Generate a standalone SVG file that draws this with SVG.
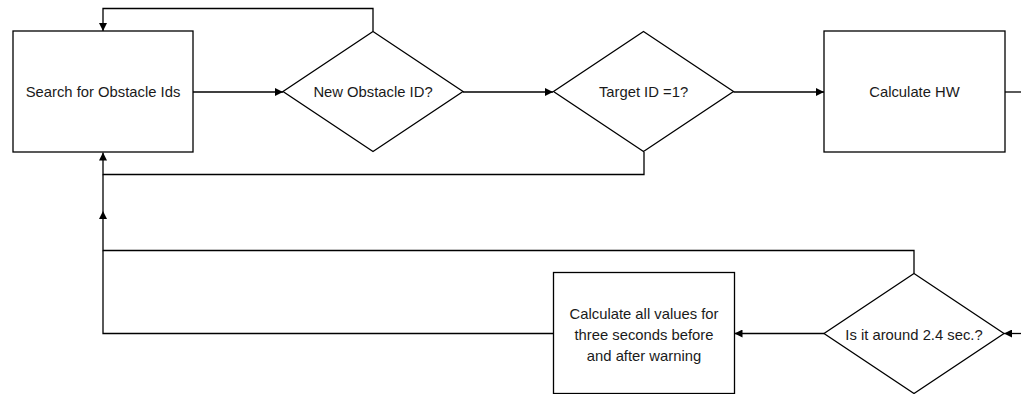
<svg xmlns="http://www.w3.org/2000/svg" width="1021" height="394" viewBox="0 0 1021 394">
<style>
.n{fill:#fff;stroke:#000;stroke-width:1.3}
.c{fill:none;stroke:#000;stroke-width:1.3}
text{font-family:"Liberation Sans",Arial,sans-serif;font-size:14.8px;fill:#1a1a1a;text-anchor:middle}
</style>
<defs>
<marker id="ah" viewBox="0 0 10 10" refX="10" refY="5" markerWidth="8" markerHeight="8" markerUnits="userSpaceOnUse" orient="auto">
<path d="M0,0 L10,5 L0,10 z" fill="#000"/>
</marker>
</defs>
<rect width="1021" height="394" fill="#fff"/>
<g id="connectors">
<path class="c" d="M373,31.5 V8.5 H103 V31" marker-end="url(#ah)"/>
<path class="c" d="M193,92 H283" marker-end="url(#ah)"/>
<path class="c" d="M463,92 H553" marker-end="url(#ah)"/>
<path class="c" d="M644,152 V174.5 H103 V152.5" marker-end="url(#ah)"/>
<path class="c" d="M733.5,92 H824" marker-end="url(#ah)"/>
<path class="c" d="M1005,92 H1021"/>
<path class="c" d="M914,273.5 V250.5 H103 V211" marker-end="url(#ah)"/>
<path class="c" d="M103,211 V174.5"/>
<path class="c" d="M553.5,333.5 H103 V250.5"/>
<path class="c" d="M824,333.5 H734.5" marker-end="url(#ah)"/>
<path class="c" d="M1021,333.5 H1004" marker-end="url(#ah)"/>
</g>
<g id="search">
<rect class="n" x="13" y="31" width="180" height="121"/>
<text x="103" y="97.3">Search for Obstacle Ids</text>
</g>
<g id="newid">
<polygon class="n" points="373,31.5 463,91.5 373,151.5 283,91.5"/>
<text x="373" y="97.3">New Obstacle ID?</text>
</g>
<g id="target">
<polygon class="n" points="643.5,31.5 733.5,91.5 643.5,151.5 553.5,91.5"/>
<text x="643.5" y="97.3">Target ID =1?</text>
</g>
<g id="hw">
<rect class="n" x="824" y="31" width="181" height="121"/>
<text x="914.5" y="97.3">Calculate HW</text>
</g>
<g id="around">
<polygon class="n" points="914,273.5 1004,333.5 914,393.5 824,333.5"/>
<text x="914" y="339.5">Is it around 2.4 sec.?</text>
</g>
<g id="calcall">
<rect class="n" x="553.5" y="272.5" width="181" height="121"/>
<text x="644" y="319.3">Calculate all values for</text>
<text x="644" y="340">three seconds before</text>
<text x="644" y="360.7">and after warning</text>
</g>
</svg>
